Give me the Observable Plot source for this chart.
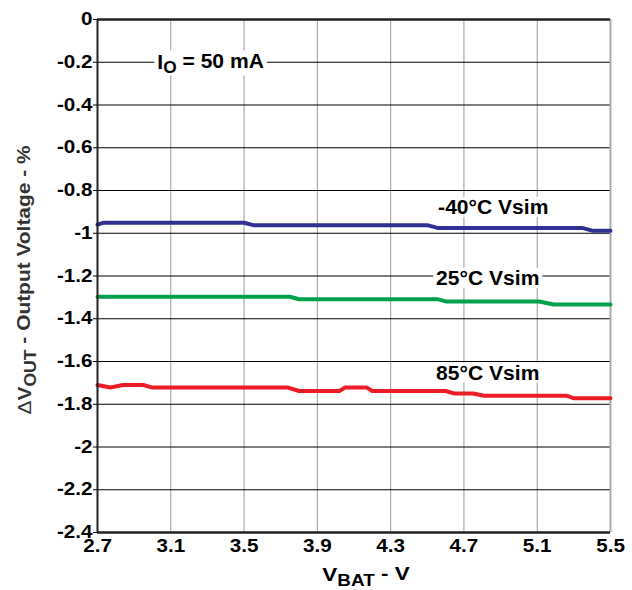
<!DOCTYPE html>
<html><head><meta charset="utf-8">
<script src="https://cdn.jsdelivr.net/npm/d3@7"></script>
<script src="https://cdn.jsdelivr.net/npm/@observablehq/plot@0.6"></script>
<style>
body{margin:0;background:#fff}
svg{display:block}
</style>
</head><body><div id="chart"></div>
<script>
const xTicks = [2.7, 3.1, 3.5, 3.9, 4.3, 4.7, 5.1, 5.5];
const yTicks = [0, -0.2, -0.4, -0.6, -0.8, -1, -1.2, -1.4, -1.6, -1.8, -2, -2.2, -2.4];

// -40°C Vsim
const vbatM40 = [2.70, 2.73, 3.50, 3.55, 4.50, 4.56, 5.35, 5.40, 5.50];
const voutM40 = [-0.960, -0.951, -0.951, -0.962, -0.962, -0.976, -0.976, -0.988, -0.988];
// 25°C Vsim
const vbat25 = [2.70, 3.75, 3.80, 4.56, 4.60, 5.11, 5.19, 5.50];
const vout25 = [-1.297, -1.297, -1.309, -1.309, -1.319, -1.319, -1.333, -1.333];
// 85°C Vsim
const vbat85 = [2.70, 2.77, 2.84, 2.95, 3.00, 3.74, 3.80, 4.02, 4.05, 4.17, 4.20, 4.60, 4.65, 4.75, 4.81, 5.26, 5.30, 5.50];
const vout85 = [-1.710, -1.722, -1.710, -1.710, -1.722, -1.722, -1.738, -1.738, -1.722, -1.722, -1.738, -1.738, -1.750, -1.750, -1.760, -1.760, -1.772, -1.772];

const seriesNames = ["-40°C Vsim", "25°C Vsim", "85°C Vsim"];
const seriesColors = ["#2e3192", "#00a14b", "#ed1c24"];
const labelX = [4.86, 4.83, 4.83];
const labelY = [-0.88, -1.213, -1.655];
const noteX = 3.32, noteY = -0.2;

const rows = [];
[[vbatM40, voutM40], [vbat25, vout25], [vbat85, vout85]].forEach(([xs, ys], k) => {
  xs.forEach((x, i) => rows.push({series: seriesNames[k], x, y: ys[i]}));
});
const labels = seriesNames.map((s, i) => ({text: s, x: labelX[i], y: labelY[i]}));

const font = "'Liberation Sans', Arial, Helvetica, sans-serif";

const plot = Plot.plot({
  width: 632,
  height: 590,
  marginLeft: 97,
  marginRight: 22,
  marginTop: 19,
  marginBottom: 58,
  style: {fontFamily: font, fontWeight: "bold", fontSize: "17.5px", color: "#000", background: "#fff"},
  x: {domain: [2.7, 5.5], label: null},
  y: {domain: [-2.4, 0], label: null},
  color: {domain: seriesNames, range: seriesColors},
  marks: [
    Plot.ruleX(xTicks.slice(1, -1), {stroke: "#999", strokeWidth: 1}),
    Plot.ruleY(yTicks.slice(1, -1), {stroke: "#000", strokeWidth: 1.2}),
    Plot.ruleX([5.5], {stroke: "#aaa", strokeWidth: 2}),
    Plot.line(rows, {x: "x", y: "y", z: "series", stroke: "series", strokeWidth: 4, curve: "linear"}),
    Plot.text(labels, {x: "x", y: "y", text: "text", fontSize: 19.5, fontWeight: "bold", fill: "#000"}),
    Plot.ruleY([0], {stroke: "#222", strokeWidth: 2.5}),
    Plot.ruleY([-2.4], {stroke: "#222", strokeWidth: 2.5}),
    Plot.ruleX([2.7], {stroke: "#222", strokeWidth: 2}),
    Plot.axisX({ticks: xTicks, tickSize: 0, tickPadding: 7, tickFormat: d => String(d), fontSize: 17.5}),
    Plot.axisY({ticks: yTicks, tickSize: 4, tickPadding: 1, tickFormat: d => String(Math.round(d * 10) / 10 || 0), fontSize: 17.5})
  ]
});

document.getElementById("chart").appendChild(plot);

const sx = plot.scale("x"), sy = plot.scale("y");
const svg = d3.select(plot);

function stretch(node, k) {
  const len = node.getComputedTextLength();
  node.setAttribute("textLength", len * k);
  node.setAttribute("lengthAdjust", "spacingAndGlyphs");
}
function boxBehind(node, pad) {
  const b = node.getBBox();
  const host = node.parentNode;
  const r = document.createElementNS("http://www.w3.org/2000/svg", "rect");
  r.setAttribute("x", b.x - pad); r.setAttribute("y", b.y + 1);
  r.setAttribute("width", b.width + 2 * pad); r.setAttribute("height", b.height - 2);
  r.setAttribute("fill", "#fff");
  const t = node.getAttribute("transform");
  if (t) r.setAttribute("transform", t);
  host.insertBefore(r, node);
}

// stretch tick labels (reference glyphs are wider)
svg.selectAll('g[aria-label="x-axis tick label"] text').each(function() { stretch(this, 1.18); });
svg.selectAll('g[aria-label="y-axis tick label"] text').each(function() { stretch(this, 1.18); });
svg.selectAll('g[aria-label="text"] text').each(function() { stretch(this, 1.08); boxBehind(this, 3); });

// I_O annotation
const note = svg.append("text")
  .attr("x", sx.apply(noteX)).attr("y", sy.apply(noteY)).attr("dy", "0.35em")
  .attr("text-anchor", "middle")
  .style("font-family", font).style("font-weight", "bold").style("font-size", "19.5px")
  .attr("fill", "#000");
note.append("tspan").text("I");
note.append("tspan").attr("dy", "0.3em").style("font-size", "16px").text("O");
note.append("tspan").attr("dy", "-0.3em").text(" = 50 mA");
stretch(note.node(), 1.08);
boxBehind(note.node(), 3);

// x axis title
const xt = svg.append("text")
  .attr("x", 366).attr("y", 581).attr("text-anchor", "middle")
  .style("font-family", font).style("font-weight", "bold").style("font-size", "19px").attr("fill", "#000");
xt.append("tspan").text("V");
xt.append("tspan").attr("dy", "0.3em").style("font-size", "16px").text("BAT");
xt.append("tspan").attr("dy", "-0.3em").text(" - V");
stretch(xt.node(), 1.18);

// y axis title
const yt = svg.append("text")
  .attr("transform", "translate(31,280) rotate(-90)").attr("text-anchor", "middle")
  .style("font-family", font).style("font-weight", "bold").style("font-size", "19px").attr("fill", "#333");
yt.append("tspan").style("font-weight", "normal").text("Δ");
yt.append("tspan").text("V");
yt.append("tspan").attr("dy", "0.3em").style("font-size", "16px").text("OUT");
yt.append("tspan").attr("dy", "-0.3em").text(" - Output Voltage - %");
stretch(yt.node(), 1.1);
</script>
</body></html>
